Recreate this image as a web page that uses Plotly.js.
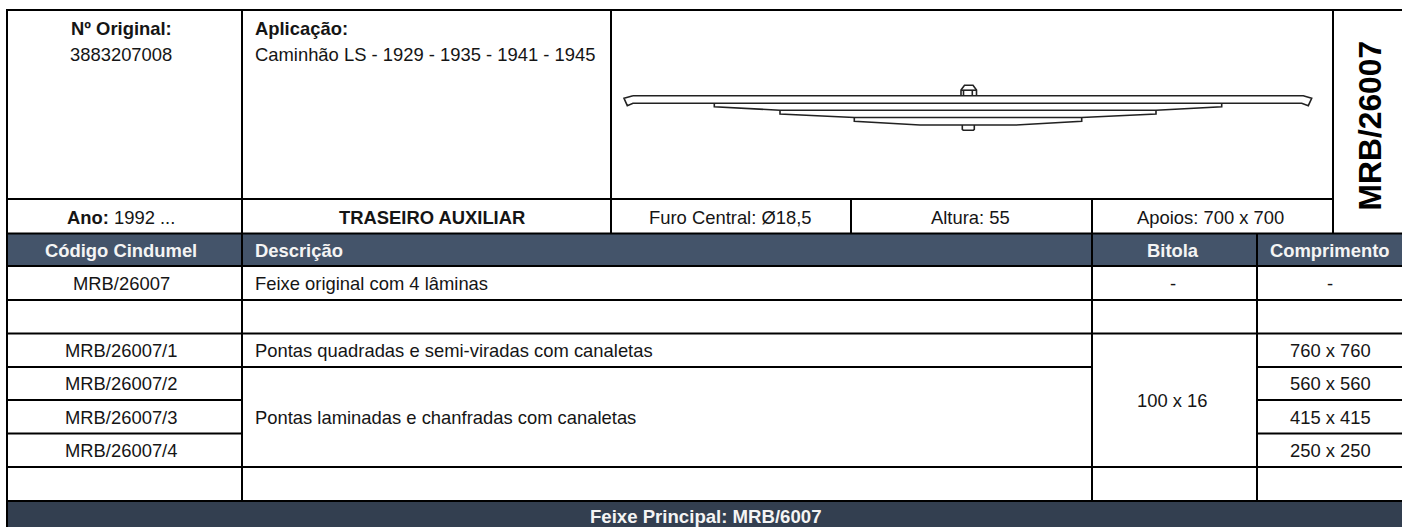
<!DOCTYPE html>
<html>
<head>
<meta charset="utf-8">
<script src="https://cdn.plot.ly/plotly-3.0.1.min.js"></script>
<style>html,body{margin:0;padding:0;background:#fff;overflow:hidden}#c{width:1402px;height:527px}</style>
</head>
<body>
<div id="c"></div>
<script>
// ---- table content ----
var originalLabel = "<b>Nº Original:</b>";
var originalNumber = "3883207008";
var applicationLabel = "<b>Aplicação:</b>";
var applicationText = "Caminhão LS - 1929 - 1935 - 1941 - 1945";
var yearText = "<b>Ano:</b> 1992 ...";
var typeText = "<b>TRASEIRO AUXILIAR</b>";
var specs = ["Furo Central: Ø18,5", "Altura: 55", "Apoios: 700 x 700"];
var sideCode = "<b>MRB/26007</b>";
var headers = ["Código Cindumel", "Descrição", "Bitola", "Comprimento"];
var codes = ["MRB/26007", "", "MRB/26007/1", "MRB/26007/2", "MRB/26007/3", "MRB/26007/4"];
var lengths = ["-", "", "760 x 760", "560 x 560", "415 x 415", "250 x 250"];
var descOriginal = "Feixe original com 4 lâminas";
var descSquare = "Pontas quadradas e semi-viradas com canaletas";
var descLaminated = "Pontas laminadas e chanfradas com canaletas";
var gaugeOriginal = "-";
var gaugeShared = "100 x 16";
var footerText = "<b>Feixe Principal: MRB/6007</b>";

// ---- spring drawing outline ----
var leaf1X = [633,624,627.3,633,1301.7,1308.3,1311.7,1303.3,633];
var leaf1Y = [95.7,98.3,105.7,103.2,103.2,105.7,98.3,95.7,95.7];
var leaf2X = [714.3,714.3,780,null,1156,1221.7,1221.7];
var leaf2Y = [103.2,106.7,110.2,null,110.2,106.7,103.2];
var leaf2LineX = [780,1156];
var leaf2LineY = [110.2,110.2];
var leaf3X = [780,780,854.3,1081.7,1156,1156];
var leaf3Y = [110.2,114,117.5,117.5,114,110.2];
var leaf4X = [854.3,854.3,920,1015,1081.7,1081.7];
var leaf4Y = [117.5,121.2,125,125,121.2,117.5];
var nutX = [961,961,964.5,973,976.5,976.5,null,961,976.5,null,963.5,963.5,null,972.3,972.3];
var nutY = [95.7,90,85.3,85.3,90,95.7,null,90.2,90.2,null,90.2,95.7,null,90.2,95.7];
var boltX = [962.3,962.3,963.3,973.3,974.3,974.3];
var boltY = [125,129.3,130.3,130.3,129.3,125];

// ---- grid geometry ----
var L = 7, R = 1402;
var top1 = 10, top2 = 199, head1 = 233.5, head2 = 266;
var rowY = [266,300,333.5,367,400,433.5,467,501];
var cX = [242,1092,1257];

var ink = "#000";
var lw = 2;
function ln(x0,y0,x1,y1,w){return {type:"line",xref:"x",yref:"y",x0:x0,y0:y0,x1:x1,y1:y1,layer:"above",line:{color:ink,width:w||lw}};}
function band(y0,y1,c){return {type:"rect",xref:"x",yref:"y",x0:L,x1:R,y0:y0,y1:y1,layer:"below",fillcolor:c,line:{width:0}};}

var shapes = [band(head1,head2,"#44546a"), band(rowY[7],527,"#333f50")];
shapes.push(ln(L-1,top1,R,top1));
shapes.push(ln(L,top1,L,527));
shapes.push(ln(L,top2,1333,top2));
shapes.push(ln(L,head1,R,head1));
shapes.push(ln(L,head2,R,head2));
rowY.slice(1).forEach(function(y,i){
  var row = i+1;
  if (row===3) { shapes.push(ln(L,y,cX[1],y)); shapes.push(ln(cX[2],y,R,y)); }
  else if (row===4||row===5) { shapes.push(ln(L,y,cX[0],y)); shapes.push(ln(cX[2],y,R,y)); }
  else { shapes.push(ln(L,y,R,y)); }
});
shapes.push(ln(242,top1,242,rowY[7]));
shapes.push(ln(611,top1,611,head1));
shapes.push(ln(851,top2,851,head1));
shapes.push(ln(1092,top2,1092,head1));
shapes.push(ln(1333,top1,1333,head1));
shapes.push(ln(1092,head1,1092,rowY[7]));
shapes.push(ln(1257,head1,1257,rowY[7]));

function t(x,y,text,o){
  o=o||{};
  return {xref:"x",yref:"y",x:x,y:y,text:text,showarrow:false,xanchor:o.a||"center",yanchor:"middle",
    textangle:o.rot||0,font:{family:"Liberation Sans, Arial, sans-serif",size:o.s||18.4,color:o.c||"#151515"}};
}
var leftPad = 253, col1 = 121, gaugeC = 1172.5, lenC = 1330;
var rowMid = [283,317,350.5,383.5,417.5,450.5];
var annotations = [
  t(col1,28.5,originalLabel), t(col1,54.5,originalNumber),
  t(leftPad,28.5,applicationLabel,{a:"left"}), t(leftPad,54.5,applicationText,{a:"left"}),
  t(col1,217,yearText), t(432,217,typeText),
  t(730,217,specs[0]), t(970,217,specs[1]), t(1210,217,specs[2]),
  t(1369.5,126,sideCode,{rot:-90,s:31.8,c:"#000"}),
  t(col1,250,"<b>"+headers[0]+"</b>",{c:"#f4f4f4"}),
  t(leftPad,250,"<b>"+headers[1]+"</b>",{a:"left",c:"#f4f4f4"}),
  t(gaugeC,250,"<b>"+headers[2]+"</b>",{c:"#f4f4f4"}),
  t(lenC,250,"<b>"+headers[3]+"</b>",{c:"#f4f4f4"}),
  t(leftPad,283,descOriginal,{a:"left"}),
  t(leftPad,350.5,descSquare,{a:"left"}),
  t(leftPad,417.5,descLaminated,{a:"left"}),
  t(gaugeC,283,gaugeOriginal), t(gaugeC,400,gaugeShared),
  t(705.5,516,footerText,{c:"#f4f4f4",s:18.6})
];
codes.forEach(function(c,i){ if(c) annotations.push(t(col1,rowMid[i],c)); });
lengths.forEach(function(c,i){ if(c) annotations.push(t(lenC,rowMid[i],c)); });

function stroke(x,y){return {type:"scatter",mode:"lines",x:x,y:y,hoverinfo:"skip",showlegend:false,line:{color:"#222",width:1.6}};}
var traces = [stroke(leaf1X,leaf1Y),stroke(leaf2X,leaf2Y),stroke(leaf2LineX,leaf2LineY),stroke(leaf3X,leaf3Y),stroke(leaf4X,leaf4Y),stroke(nutX,nutY),stroke(boltX,boltY)];

Plotly.newPlot("c",traces,{
  width:1402,height:527,margin:{l:0,r:0,t:0,b:0,pad:0},
  paper_bgcolor:"#fff",plot_bgcolor:"rgba(0,0,0,0)",showlegend:false,
  xaxis:{range:[0,1402],visible:false,fixedrange:true},
  yaxis:{range:[527,0],visible:false,fixedrange:true},
  shapes:shapes,annotations:annotations
},{displayModeBar:false,staticPlot:true});
</script>
</body>
</html>
